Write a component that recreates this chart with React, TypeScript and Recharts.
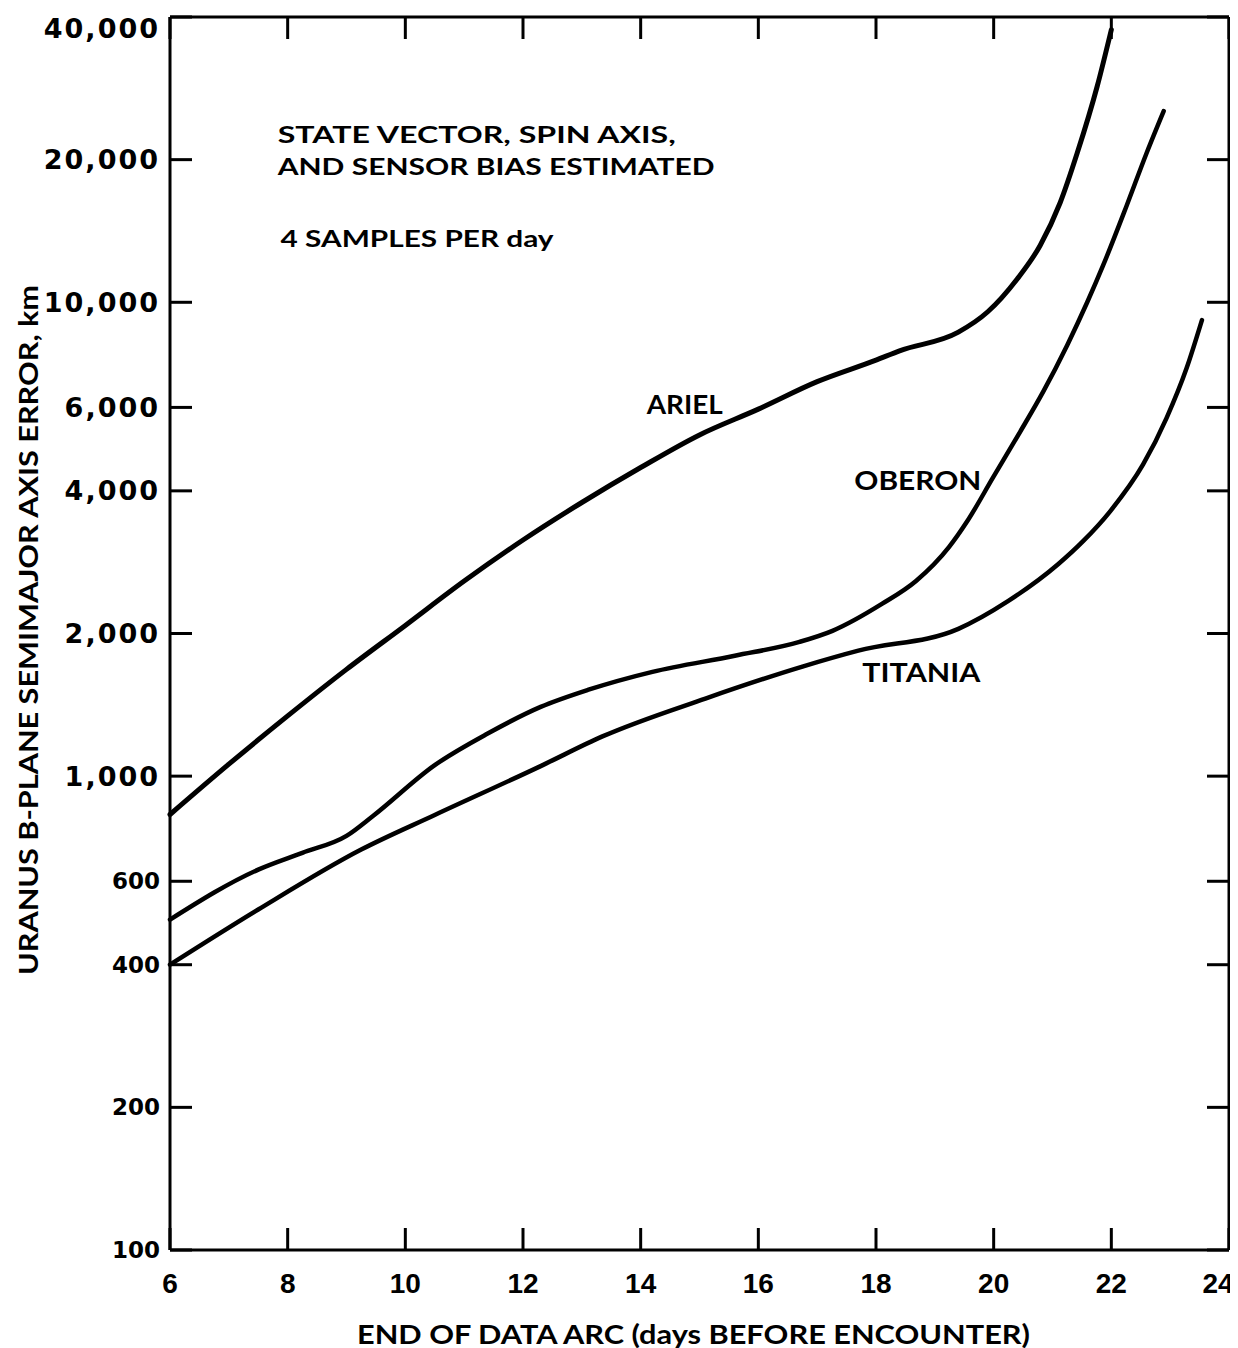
import React from 'react';
import { LineChart, Line, XAxis, YAxis, ReferenceDot } from 'recharts';

// days before encounter (end of data arc) and B-plane semimajor axis error, km
const dayTicks = [6, 8, 10, 12, 14, 16, 18, 20, 22, 24];
const errorTicks = [100, 200, 400, 600, 1000, 2000, 4000, 6000, 10000, 20000, 40000];

const arielDays = [6, 7, 8, 9, 10, 11, 12, 13, 14, 15, 16, 17, 18, 18.4, 19.4, 19.9, 20.4, 20.79, 21.13, 21.42, 21.76, 22];
const arielError = [830, 1060, 1340, 1680, 2080, 2580, 3150, 3780, 4480, 5250, 5950, 6800, 7550, 7900, 8650, 9550, 11200, 13180, 16220, 20650, 28570, 37600];

const oberonDays = [6, 7.5, 8.25, 9, 9.45, 10.5, 11.4, 12.3, 13.1, 14.2, 15.6, 16.7, 17.26, 18.1, 18.68, 19.24, 19.55, 19.99, 20.45, 20.84, 21.25, 21.59, 21.86, 22.26, 22.6, 22.89];
const oberonError = [498, 635, 689, 748, 824, 1055, 1230, 1400, 1520, 1660, 1795, 1920, 2026, 2309, 2581, 3043, 3450, 4270, 5330, 6470, 8120, 10000, 11960, 15990, 20660, 25320];

const titaniaDays = [6, 7.5, 9.25, 10.5, 12.3, 13.35, 15.1, 16.75, 17.7, 19.4, 20.25, 21.1, 21.52, 21.98, 22.54, 22.94, 23.28, 23.54];
const titaniaError = [400, 523, 700, 828, 1050, 1213, 1458, 1703, 1840, 2046, 2343, 2803, 3132, 3622, 4547, 5705, 7265, 9170];

const toPoints = (days: number[], err: number[]) => days.map((d, i) => ({ day: d, err: err[i] }));

const arielData = toPoints(arielDays, arielError);
const oberonData = toPoints(oberonDays, oberonError);
const titaniaData = toPoints(titaniaDays, titaniaError);

const INK = '#000';
const TICK = 22;
const labelFont = "Lato, 'Noto Sans', sans-serif";

const BottomTick = (props: any) => {
  const { x, y, payload } = props;
  const dx = payload.value === 24 ? -11 : 0;
  return (
    <g>
      <line x1={x} x2={x} y1={y} y2={y - TICK} stroke={INK} strokeWidth={3} />
      <text x={x + dx} y={y + 33} textAnchor="middle" dominantBaseline="central"
        fontFamily="'Liberation Sans', Arial, sans-serif" fontWeight="bold" fontSize={28} fill={INK}>
        {payload.value}
      </text>
    </g>
  );
};

const TopTick = (props: any) => {
  const { x, y } = props;
  return <line x1={x} x2={x} y1={y} y2={y + TICK} stroke={INK} strokeWidth={3} />;
};

const LeftTick = (props: any) => {
  const { x, y, payload } = props;
  const v = payload.value as number;
  const big = v >= 1000;
  const dy = v === 40000 ? 11 : 0;
  return (
    <g>
      <line x1={x} x2={x + TICK} y1={y} y2={y} stroke={INK} strokeWidth={3} />
      <text x={x - 10} y={y + dy} textAnchor="end" dominantBaseline="central"
        fontFamily="'DejaVu Sans', sans-serif" fontWeight="bold" fontSize={big ? 27 : 23}
        letterSpacing={big ? 2 : 0} fill={INK}>
        {v.toLocaleString('en-US')}
      </text>
    </g>
  );
};

const RightTick = (props: any) => {
  const { x, y } = props;
  return <line x1={x} x2={x - TICK} y1={y} y2={y} stroke={INK} strokeWidth={3} />;
};

const tag = (text: string, width: number, anchor: 'middle' | 'start', size: number) => (props: any) => {
  const { viewBox } = props;
  const cx = viewBox.x + viewBox.width / 2;
  const cy = viewBox.y + viewBox.height / 2;
  return (
    <text x={cx} y={cy} textAnchor={anchor} dominantBaseline="central" fontFamily={labelFont}
      fontWeight="bold" fontSize={size} fill={INK} textLength={width} lengthAdjust="spacingAndGlyphs">
      {text}
    </text>
  );
};

const XTitle = (props: any) => {
  const { viewBox } = props;
  return (
    <text x={viewBox.x + 187} y={viewBox.y + 83} dominantBaseline="central" fontFamily={labelFont}
      fontWeight="bold" fontSize={27} fill={INK} textLength={673} lengthAdjust="spacingAndGlyphs">
      END OF DATA ARC (days BEFORE ENCOUNTER)
    </text>
  );
};

const YTitle = () => (
  <text x={20} y={622} transform="rotate(-90 20 622)" textAnchor="middle" dominantBaseline="central"
    fontFamily={labelFont} fontWeight="bold" fontSize={26} fill={INK} textLength={690} lengthAdjust="spacingAndGlyphs">
    URANUS B-PLANE SEMIMAJOR AXIS ERROR, km
  </text>
);

const notes = [
  { day: 7.83, err: 22650, text: 'STATE VECTOR, SPIN AXIS,', width: 398 },
  { day: 7.83, err: 19400, text: 'AND SENSOR BIAS ESTIMATED', width: 437 },
  { day: 7.88, err: 13700, text: '4 SAMPLES PER day', width: 273 },
];

const seriesTags = [
  { day: 14.75, err: 6106, text: 'ARIEL', width: 76 },
  { day: 18.71, err: 4207, text: 'OBERON', width: 127 },
  { day: 18.77, err: 1662, text: 'TITANIA', width: 118 },
];

export default function App() {
  return (
    <LineChart width={1230} height={1340} margin={{ top: 8, right: 8, bottom: 0, left: 0 }}>
      <XAxis xAxisId="b" dataKey="day" type="number" domain={[6, 24]} ticks={dayTicks} interval={0}
        height={98} tickSize={0} tickMargin={0} tickLine={false} tick={<BottomTick />}
        axisLine={{ stroke: INK, strokeWidth: 3 }} label={{ content: <XTitle /> } as any} />
      <XAxis xAxisId="t" orientation="top" dataKey="day" type="number" domain={[6, 24]} ticks={dayTicks}
        interval={0} height={1} tickSize={0} tickMargin={0} tickLine={false} tick={<TopTick />}
        axisLine={{ stroke: INK, strokeWidth: 3 }} />
      <YAxis yAxisId="l" scale="log" type="number" domain={[100, 40000]} ticks={errorTicks} interval={0}
        width={162} tickSize={0} tickMargin={0} tickLine={false} tick={<LeftTick />}
        axisLine={{ stroke: INK, strokeWidth: 3 }} label={{ content: <YTitle /> } as any} />
      <YAxis yAxisId="r" orientation="right" scale="log" type="number" domain={[100, 40000]} ticks={errorTicks}
        interval={0} width={1} tickSize={0} tickMargin={0} tickLine={false} tick={<RightTick />}
        axisLine={{ stroke: INK, strokeWidth: 3 }} />

      <Line xAxisId="b" yAxisId="l" data={arielData} dataKey="err" type="monotone" stroke={INK}
        strokeWidth={5} dot={false} strokeLinecap="round" isAnimationActive={false} />
      <Line xAxisId="t" yAxisId="r" data={oberonData} dataKey="err" type="monotone" stroke={INK}
        strokeWidth={4.5} dot={false} strokeLinecap="round" isAnimationActive={false} />
      <Line xAxisId="b" yAxisId="l" data={titaniaData} dataKey="err" type="monotone" stroke={INK}
        strokeWidth={4.5} dot={false} strokeLinecap="round" isAnimationActive={false} />

      {seriesTags.map((t) => (
        <ReferenceDot key={t.text} xAxisId="b" yAxisId="l" x={t.day} y={t.err} r={0} fill="none" stroke="none"
          label={{ content: tag(t.text, t.width, 'middle', 26) } as any} />
      ))}
      {notes.map((n) => (
        <ReferenceDot key={n.text} xAxisId="b" yAxisId="l" x={n.day} y={n.err} r={0} fill="none" stroke="none"
          label={{ content: tag(n.text, n.width, 'start', 23) } as any} />
      ))}
    </LineChart>
  );
}
